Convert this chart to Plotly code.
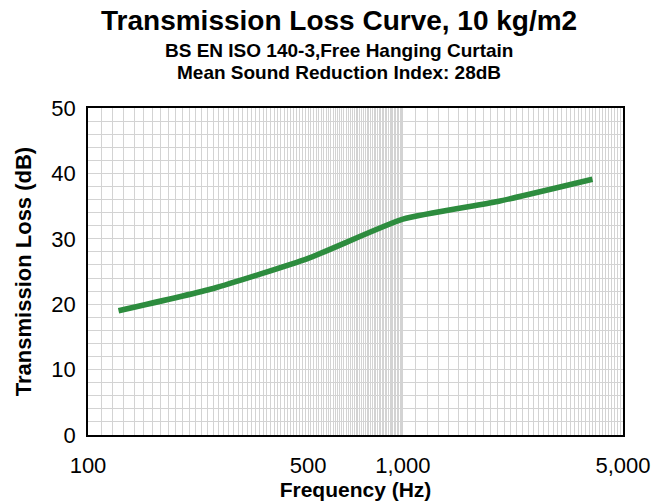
import plotly.graph_objects as go

# Data
frequencies = [125, 250, 500, 1000, 2000, 4000]
transmission_loss = [19, 22.4, 27, 33, 35.7, 39.1]

x_tick_vals = [100, 500, 1000, 5000]
x_tick_text = ["100", "500", "1,000", "5,000"]
y_tick_vals = [0, 10, 20, 30, 40, 50]

title_text = "Transmission Loss Curve, 10 kg/m2"
subtitle_1 = "BS EN ISO 140-3,Free Hanging Curtain"
subtitle_2 = "Mean Sound Reduction Index: 28dB"

# minor grid positions (log style: every 10 Hz to 1000, every 100 Hz above)
minor_x = [v for v in range(110, 1000, 10)] + [v for v in range(1100, 5000, 100)]

FONT = "Liberation Sans, Arial, sans-serif"
GRID = "#d3d3d3"

fig = go.Figure()
fig.add_trace(go.Scatter(
    x=frequencies, y=transmission_loss, mode="lines",
    line=dict(color="#2d8c3e", width=5.5, shape="spline", smoothing=0.5),
    showlegend=False, hoverinfo="skip",
))

fig.update_layout(
    width=665, height=501,
    margin=dict(l=88, r=42, t=108, b=66),
    paper_bgcolor="white", plot_bgcolor="white",
    font=dict(family=FONT, color="black"),
    showlegend=False,
)

fig.update_xaxes(
    type="log", range=[2, 3.69897], automargin=False,
    tickmode="array", tickvals=x_tick_vals, ticktext=x_tick_text,
    tickfont=dict(size=22, color="black"),
    ticks="outside", ticklen=10, tickcolor="rgba(0,0,0,0)",
    showgrid=True, gridcolor=GRID, gridwidth=1,
    minor=dict(tickmode="array", tickvals=minor_x, showgrid=True,
               gridcolor=GRID, gridwidth=1, ticks=""),
    showline=True, linecolor="black", linewidth=1.5, mirror=True,
    zeroline=False,
    title=dict(text="<b>Frequency (Hz)</b>", font=dict(size=21, color="black"), standoff=11),
)

fig.update_yaxes(
    range=[0, 50], automargin=False,
    tickmode="array", tickvals=y_tick_vals,
    tickfont=dict(size=22, color="black"),
    ticks="outside", ticklen=6, tickcolor="rgba(0,0,0,0)",
    showgrid=True, gridcolor=GRID, gridwidth=1,
    minor=dict(dtick=2, showgrid=True, gridcolor=GRID, gridwidth=1, ticks=""),
    showline=True, linecolor="black", linewidth=1.5, mirror=True,
    zeroline=False,
    title=dict(text="<b>Transmission Loss (dB)</b>", font=dict(size=22, color="black"), standoff=14),
)

PLOT_TOP, PLOT_H = 108, 327
PLOT_LEFT, PLOT_W = 88, 535

def paper_y(px):
    return 1 + (PLOT_TOP - px) / PLOT_H

def paper_x(px):
    return (px - PLOT_LEFT) / PLOT_W

for txt, yc, size in [(title_text, 20, 28), (subtitle_1, 50, 19), (subtitle_2, 72, 19)]:
    fig.add_annotation(text=f"<b>{txt}</b>", xref="paper", yref="paper",
                       x=paper_x(339), y=paper_y(yc), xanchor="center", yanchor="middle",
                       showarrow=False, font=dict(size=size, color="black", family=FONT))

fig.write_html("out.html", config={"displayModeBar": False},
               post_script="document.body.style.margin='0';document.body.style.padding='0';")
